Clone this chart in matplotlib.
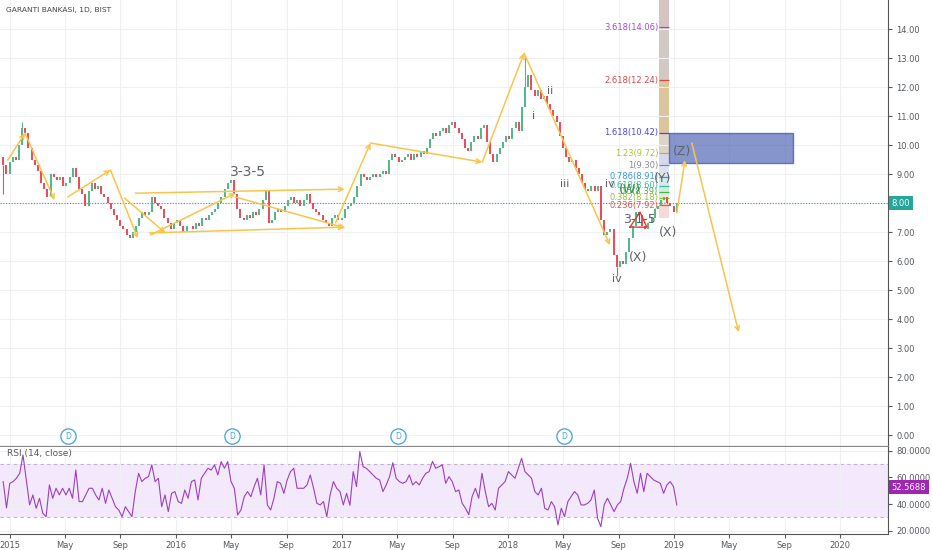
import numpy as np
import pandas as pd
import matplotlib
matplotlib.use('Agg')
import matplotlib.pyplot as plt
import matplotlib.dates as mdates
import matplotlib.transforms as mtrans

plt.rcParams['font.family'] = ['Liberation Sans Narrow', 'DejaVu Sans']

# weekly closes (Dec 2014 .. Jan 2019)
closes = [9.3, 9.0, 9.4, 9.6, 9.5, 10.0, 10.6, 10.4, 9.9, 9.5,
          9.3, 9.1, 8.7, 8.5, 8.2, 9.0, 8.9, 8.8, 8.9, 8.6,
          8.7, 8.9, 9.2, 8.9, 8.5, 8.3, 7.9, 8.4, 8.7, 8.5,
          8.6, 8.3, 8.2, 8.0, 7.8, 7.6, 7.4, 7.2, 7.1, 6.9,
          6.8, 7.0, 7.2, 7.5, 7.7, 7.6, 7.7, 8.2, 8.0, 7.9,
          7.8, 7.5, 7.3, 7.1, 7.3, 7.4, 7.2, 7.0, 7.2, 7.2,
          7.1, 7.3, 7.2, 7.5, 7.4, 7.6, 7.7, 7.8, 8.0, 8.2,
          8.5, 8.7, 8.8, 8.3, 7.8, 7.5, 7.4, 7.6, 7.5, 7.7,
          7.6, 7.8, 8.1, 8.4, 7.3, 7.4, 7.7, 7.8, 7.7, 7.9,
          8.1, 8.2, 8.0, 8.1, 7.9, 8.1, 8.3, 8.0, 7.8, 7.7,
          7.6, 7.4, 7.3, 7.2, 7.5, 7.6, 7.4, 7.5, 7.8, 7.9,
          8.0, 8.2, 8.6, 9.0, 8.9, 8.8, 8.9, 9.0, 8.9, 9.0,
          9.1, 9.0, 9.5, 9.7, 9.6, 9.4, 9.5, 9.6, 9.7, 9.5,
          9.7, 9.6, 9.8, 9.7, 9.9, 10.2, 10.4, 10.3, 10.5, 10.6,
          10.4, 10.7, 10.8, 10.6, 10.4, 10.2, 9.9, 9.8, 10.1, 10.3,
          10.2, 10.6, 10.7, 10.1, 9.7, 9.4, 9.7, 9.9, 10.1, 10.3,
          10.2, 10.6, 10.8, 10.5, 11.3, 12.0, 12.4, 11.9, 11.7, 11.9,
          11.6, 11.7, 11.4, 11.2, 11.0, 10.8, 10.3, 9.9, 9.6, 9.4,
          9.5, 9.2, 9.0, 8.7, 8.5, 8.4, 8.6, 8.4, 8.6, 7.4,
          6.9, 7.0, 7.1, 6.2, 5.8, 6.0, 5.9, 6.3, 6.8, 7.2,
          7.7, 7.6, 7.2, 7.1, 7.3, 7.5, 7.8, 7.9, 8.1, 8.2,
          8.0, 7.9, 7.7, 8.0]
first_open = 9.6
spike_high = {6: 10.8, 165: 13.1}
spike_low = {0: 8.3, 194: 5.5}
last_price = 8.00

rsi_2015_2016 = [56.8, 37, 55.5, 56.8, 59.3, 63, 76.8, 58, 39.3, 46.8,
                 36.8, 44.3, 33, 30.5, 54.3, 44.3, 51.8, 46.8, 51.8, 46.8,
                 51.8, 44.3, 65.5, 41.8, 41.8, 46.8, 51.8, 51.8, 46.8, 43,
                 51.8, 40.5, 50.5, 44.3, 38, 35.5, 30.5, 38, 34.3, 30.5,
                 49.3, 63, 56.8, 59.3, 60.5, 69.3, 56.8, 59.3, 38, 46.8,
                 34.3, 48, 49.3, 41.8, 40.5, 50.5, 44.3, 56.8, 58, 43,
                 59.3, 63, 66.8, 65.5, 69.3, 61.8, 71.8, 66.8, 71.8, 56.8,
                 51.8, 31.8, 35.5, 45.5, 49.3, 45.5, 53, 59.3, 46.8, 69.3,
                 39.3, 35.5, 44.3, 56.8, 55.5, 48, 58, 64.3, 66.8, 51.8,
                 51.8, 51.8, 54.3, 61.8, 51.8, 40.5, 39.3, 41.8, 30.5, 46.8,
                 56.8, 51.8, 49.3, 39.3]
rsi_2017_2018 = [48, 39, 64.3, 53, 79.3, 68, 66.8, 64.3, 61.8, 59.3,
                 58, 49.3, 54.3, 60.5, 71, 59.3, 56.8, 55.5, 56.8, 61.8,
                 54.3, 56.8, 54.3, 59.3, 63, 64.3, 72, 66.8, 68, 69.3,
                 55.5, 60.5, 56.8, 49.3, 50.5, 40.5, 36.8, 32, 45.5, 51.8,
                 44.3, 63, 49.3, 38, 40.5, 35.5, 51.8, 54.3, 56.8, 64.3,
                 61.8, 59.3, 66.8, 74.3, 64.3, 61.8, 59.3, 49.3, 46.8, 51.8,
                 36.8, 35.5, 41.8, 38, 24.3, 36.8, 30.5, 41.8, 45.5, 49.3,
                 46.8, 39.3, 39.3, 40.5, 43, 50.5, 29.3, 23, 39.3, 44.3,
                 39.3, 34.3, 39.3, 41.8, 51.8, 59.3, 70.5, 56.8, 48, 63,
                 49.3, 63, 60.5, 58, 56.8, 55.5, 48, 54.3, 56.8, 53,
                 39.3]
last_rsi = 52.5688

fib_ratios = ['3.618', '2.618', '1.618', '1.23', '1', '0.786', '0.618', '0.5', '0.382', '0.236']
fib_prices = [14.06, 12.24, 10.42, 9.72, 9.30, 8.91, 8.60, 8.39, 8.18, 7.92]
fib_colors = ['#a24fd0', '#d9484a', '#4a4ad0', '#a9c23a', '#8a8a8a',
              '#3b97d6', '#36bf9a', '#4caf50', '#9cbf3a', '#e05555']

tick_dates = ['2015-01-01', '2015-05-01', '2015-09-01', '2016-01-01', '2016-05-01', '2016-09-01',
              '2017-01-01', '2017-05-01', '2017-09-01', '2018-01-01', '2018-05-01', '2018-09-01',
              '2019-01-01', '2019-05-01', '2019-09-01', '2020-01-01']
tick_labels = ['2015', 'May', 'Sep', '2016', 'May', 'Sep', '2017', 'May', 'Sep',
               '2018', 'May', 'Sep', '2019', 'May', 'Sep', '2020']
dividend_dates = ['2015-05-08', '2016-05-04', '2017-05-04', '2018-05-04']

# elliott wave drawings (yellow arrows) and labels
wave_paths = [
    [('2014-12-27', 9.48), ('2015-02-03', 10.41), ('2015-04-09', 8.10)],
    [('2015-05-08', 8.21), ('2015-08-10', 9.14), ('2015-10-09', 6.79)],
    [('2015-09-10', 8.17), ('2015-12-09', 6.97)],
    [('2015-10-04', 8.34), ('2017-01-06', 8.48)],
    [('2015-11-04', 6.97), ('2017-01-06', 7.17)],
    [('2015-11-06', 6.90), ('2016-05-11', 8.34)],
    [('2016-05-11', 8.21), ('2017-01-08', 7.14)],
    [('2016-12-17', 7.31), ('2017-03-04', 10.07), ('2017-11-05', 9.41)],
    [('2017-11-05', 9.41), ('2018-02-05', 13.17), ('2018-08-13', 6.55)],
    [('2019-01-07', 7.66), ('2019-01-25', 9.48)],
    [('2019-02-09', 10.07), ('2019-05-23', 3.55)],
]
wave_labels = [('3-3-5', '2016-06-07', 9.07, 10), ('i', '2018-02-25', 11.0, 8),
               ('ii', '2018-04-03', 11.86, 8), ('iii', '2018-05-06', 8.66, 8),
               ('iv', '2018-08-13', 8.66, 8), ('iv', '2018-08-28', 5.38, 8),
               ('(X)', '2018-10-13', 6.14, 9), ('(X)', '2018-12-18', 6.97, 9),
               ('(Y)', '2018-12-07', 8.86, 9), ('(Z)', '2019-01-18', 9.76, 9),
               ('3-1-5', '2018-10-16', 7.45, 9)]

up_col, dn_col = '#53b987', '#eb4d5c'
grid_col = '#eef0f3'
text_col = '#555a60'

fig = plt.figure(figsize=(9.32, 5.5), dpi=100)
ax = fig.add_axes([0, 1 - 447 / 550, 888 / 932, 447 / 550])
ax_rsi = fig.add_axes([0, 1 - 534 / 550, 888 / 932, 87 / 550], sharex=ax)

d2n = lambda s: mdates.date2num(pd.Timestamp(s))
x0 = d2n('2015-01-01')
xlim = (x0 - 10 * 2.2, x0 + 878 * 2.2)

# candles
dates = pd.date_range('2014-12-17', '2019-01-07', periods=len(closes))
xd = mdates.date2num(dates)
c = np.array(closes)
o = np.array([first_open] + closes[:-1])
cols = [up_col if cc >= oo else dn_col for oo, cc in zip(o, c)]
ax.bar(xd, c - o, bottom=o, width=4.4, color=cols, linewidth=0, zorder=3)
for i, v in spike_high.items():
    ax.vlines(xd[i], max(o[i], c[i]), v, color=cols[i], lw=0.8, zorder=3)
for i, v in spike_low.items():
    ax.vlines(xd[i], v, min(o[i], c[i]), color=cols[i], lw=0.8, zorder=3)

# last price line
ax.axhline(last_price, color='#26a69a', lw=0.8, ls=(0, (1, 1.5)), zorder=2)

# fibonacci extension strip and levels
strip_l, strip_r = d2n('2018-11-29'), d2n('2018-12-21')
seg_bounds = [7.49] + fib_prices[::-1] + [15.2]
seg_cols = ['#f7d9d9', '#f1ebcf', '#dcefd2', '#d3ece0', '#d6eaf0', '#dde2f3',
            '#d9d7ef', '#ddd3c8', '#dcc59c', '#d2c9c3', '#d6c4c0']
for lo, hi, sc in zip(seg_bounds[:-1], seg_bounds[1:], seg_cols):
    ax.fill_between([strip_l, strip_r], lo, hi, color=sc, lw=0, zorder=1)
for r, p, fc in zip(fib_ratios, fib_prices, fib_colors):
    ax.hlines(p, strip_l, strip_r, color=fc, lw=0.9, zorder=2)
    ax.text(strip_l - 2, p, f'{r}({p:.2f})', color=fc, fontsize=6,
            ha='right', va='center', zorder=5)

# target box
ax.add_patch(plt.Rectangle((d2n('2018-12-21'), 9.38), d2n('2019-09-19') - d2n('2018-12-21'),
                           10.42 - 9.38, fc='#5468b8', ec='#3a4ea8', alpha=0.7, lw=1, zorder=4))

# wave arrows
for path in wave_paths:
    pts = [(d2n(d), p) for d, p in path]
    for a, b in zip(pts[:-1], pts[1:]):
        ax.annotate('', xy=b, xytext=a, zorder=6,
                    arrowprops=dict(arrowstyle='->', color='#f8c54a', lw=1.1,
                                    shrinkA=0, shrinkB=0, mutation_scale=8))

# small W-X-Y helpers
ax.plot([d2n('2018-09-26'), d2n('2018-10-18'), d2n('2018-11-02'), d2n('2018-09-26')],
        [7.17, 7.69, 7.17, 7.17], color='#e53935', lw=1, zorder=6)
ax.text(d2n('2018-09-26'), 8.45, '(W)', color='#3a8f4a', fontsize=9, ha='center', va='center', zorder=7)
for txt, d, p, fs in wave_labels:
    ax.text(d2n(d), p, txt, color='#5f6368', fontsize=fs, ha='center', va='center', zorder=7)

# dividend markers
trans = mtrans.blended_transform_factory(ax.transData, ax.transAxes)
for d in dividend_dates:
    ax.plot(d2n(d), 0.0246, 'o', ms=11, mfc='white', mec='#42a0e8', mew=0.9,
            transform=trans, zorder=8, clip_on=False)
    ax.text(d2n(d), 0.0246, 'D', color='#42a0e8', fontsize=5.5, ha='center', va='center',
            transform=trans, zorder=9)

# main axis styling
ax.set_xlim(xlim)
ax.set_ylim(-0.41, 15.0)
ax.set_yticks(range(0, 15))
ax.set_yticklabels(['' if v == last_price else f'{v:.2f}' for v in range(0, 15)])
ax.yaxis.tick_right()
ax.tick_params(axis='y', labelsize=6, colors=text_col, length=3, pad=3)
ax.tick_params(axis='x', length=0, labelbottom=False)
ax.set_xticks([d2n(d) for d in tick_dates])
ax.grid(True, color=grid_col, lw=0.8, zorder=0)
for s in ['top', 'left']:
    ax.spines[s].set_visible(False)
ax.spines['right'].set_color('#555')
ax.spines['bottom'].set_color('#888')
ax.spines['bottom'].set_linewidth(1.6)

ytr = mtrans.blended_transform_factory(ax.transAxes, ax.transData)
ax.text(1.004, last_price, '8.00', transform=ytr, color='white', fontsize=6, ha='left', va='center',
        bbox=dict(boxstyle='square,pad=0.3', fc='#26a69a', ec='none'), zorder=10)
fig.text(6 / 932, 1 - 10 / 550, 'GARANTI BANKASI, 1D, BIST', fontsize=5.4, color='#444',
         ha='left', va='center')

# RSI panel
rsi = rsi_2015_2016 + rsi_2017_2018
rsi_dates = pd.date_range('2014-12-17', '2019-01-07', periods=len(rsi))
ax_rsi.axhspan(30, 70, color='#f3e8fc', lw=0, zorder=0)
ax_rsi.axhline(70, color='#bdb5c4', lw=0.8, ls=(0, (3, 3)), zorder=1)
ax_rsi.axhline(30, color='#bdb5c4', lw=0.8, ls=(0, (3, 3)), zorder=1)
ax_rsi.plot(mdates.date2num(rsi_dates), rsi, color='#9b40bf', lw=0.8, zorder=3)
ax_rsi.set_ylim(17.5, 82.75)
ax_rsi.set_yticks([20, 40, 60, 80])
ax_rsi.set_yticklabels(['20.0000', '40.0000', '60.0000', '80.0000'])
ax_rsi.yaxis.tick_right()
ax_rsi.tick_params(axis='y', labelsize=6, colors=text_col, length=3, pad=3)
ax_rsi.set_xticks([d2n(d) for d in tick_dates])
ax_rsi.set_xticklabels(tick_labels)
ax_rsi.tick_params(axis='x', labelsize=6, colors=text_col, length=3, pad=2)
ax_rsi.grid(True, color=grid_col, lw=0.8, zorder=0)
for s in ['top', 'left']:
    ax_rsi.spines[s].set_visible(False)
ax_rsi.spines['right'].set_color('#555')
ax_rsi.spines['bottom'].set_color('#555')
ax_rsi.set_xlim(xlim)
rtr = mtrans.blended_transform_factory(ax_rsi.transAxes, ax_rsi.transData)
ax_rsi.text(1.004, last_rsi, '52.5688', transform=rtr, color='white', fontsize=6, ha='left',
            va='center', bbox=dict(boxstyle='square,pad=0.3', fc='#9c27b0', ec='none'), zorder=10)
ax_rsi.text(7, 78, 'RSI (14, close)', transform=mtrans.blended_transform_factory(
    mtrans.IdentityTransform(), ax_rsi.transData), fontsize=6.5, color=text_col, va='center')

fig.savefig('out.png', dpi=100)
